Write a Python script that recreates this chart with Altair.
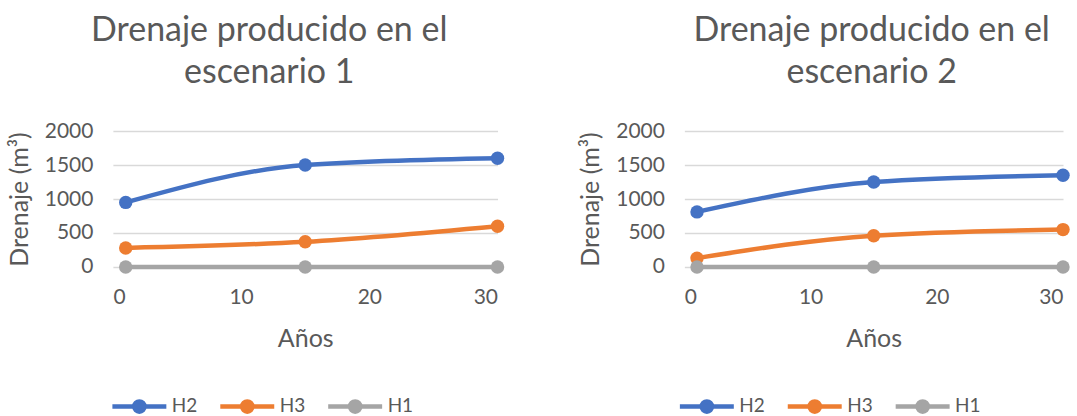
import altair as alt
import pandas as pd

years = [1, 15, 30]
series_names = ["H2", "H3", "H1"]
series_colors = ["#4472C4", "#ED7D31", "#A5A5A5"]

esc1_H2 = [950, 1500, 1600]
esc1_H3 = [280, 370, 600]
esc1_H1 = [0, 0, 0]

esc2_H2 = [810, 1250, 1350]
esc2_H3 = [130, 460, 550]
esc2_H1 = [0, 0, 0]

titles = [["Drenaje producido en el", "escenario 1"],
          ["Drenaje producido en el", "escenario 2"]]
x_ticks = [0, 10, 20, 30]
y_ticks = [0, 500, 1000, 1500, 2000]

FONT = "Lato"
GREY = "#595959"

def make_df(h2, h3, h1):
    rows = []
    for name, vals in zip(series_names, [h2, h3, h1]):
        for yr, v in zip(years, vals):
            rows.append({"Años": yr, "Drenaje": v, "Serie": name})
    return pd.DataFrame(rows)

sym_path = ("M-1,0L1,0M-0.19,0A0.19,0.19,0,1,0,0.19,0"
            "A0.19,0.19,0,1,0,-0.19,0Z")
col_signal = ("datum.value === 'H2' ? '#4472C4' : "
              "(datum.value === 'H3' ? '#ED7D31' : '#A5A5A5')")

def panel(df, title, width, dx, legend_x):
    color = alt.Color(
        "Serie:N",
        scale=alt.Scale(domain=series_names, range=series_colors),
        sort=series_names,
        legend=alt.Legend(
            orient="none", legendX=legend_x, legendY=246,
            direction="horizontal", columns=3, title=None,
            symbolType=sym_path, symbolSize=2916, symbolStrokeWidth=4.5,
            symbolFillColor={"expr": col_signal},
            symbolStrokeColor={"expr": col_signal},
            symbolOpacity=1,
            labelFontSize=19, labelColor=GREY, labelFont=FONT,
            columnPadding=13, labelOffset=3,
        ),
    )
    x = alt.X("Años:Q", scale=alt.Scale(domain=[0, 30], nice=False),
              axis=alt.Axis(values=x_ticks, grid=False, domain=False, ticks=False,
                            labelPadding=20, title="Años", titlePadding=19))
    y = alt.Y("Drenaje:Q", scale=alt.Scale(domain=[0, 2000], nice=False),
              axis=alt.Axis(values=y_ticks, format="d", domain=False, ticks=False,
                            labelPadding=20, title="Drenaje (m³)", titlePadding=12,
                            gridColor="#D9D9D9", gridWidth=1.5))
    base = alt.Chart(df)
    line = base.mark_line(strokeWidth=4.5, interpolate="monotone").encode(
        x=x, y=y, color=color, detail="Serie:N")
    pts = base.mark_point(filled=True, size=180, opacity=1).encode(
        x=x, y=y, color=color)
    return alt.layer(line, pts).properties(
        width=width, height=136,
        title=alt.TitleParams(title, fontSize=34, font=FONT, fontWeight="normal",
                              color=GREY, anchor="middle", frame="group",
                              dx=dx, offset=30, lineHeight=42),
    )

left = panel(make_df(esc1_H2, esc1_H3, esc1_H1), titles[0], 385, -36, -3)
right = panel(make_df(esc2_H2, esc2_H3, esc2_H1), titles[1], 379, -2, -7)

chart = alt.hconcat(left, right, spacing=72).resolve_scale(
    color="independent").resolve_legend(color="independent").properties(
    padding={"left": 7, "top": 14, "right": 5, "bottom": 0},
    background="white",
).configure_view(stroke=None).configure_axis(
    labelFont=FONT, titleFont=FONT, labelFontSize=21, titleFontSize=25,
    labelColor=GREY, titleColor=GREY, titleFontWeight="normal",
)

chart.save("out.html", embed_options={"renderer": "svg", "actions": False})
